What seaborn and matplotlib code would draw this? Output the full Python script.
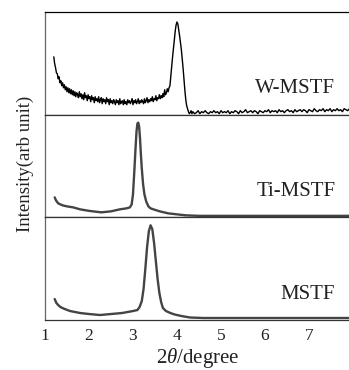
import numpy as np
import pandas as pd
import matplotlib
matplotlib.use("Agg")
import matplotlib.pyplot as plt
import seaborn as sns

# ---------------- data ----------------
# W-MSTF: fine scan 1.20..4.40 step 0.02, coarse part 4.44..7.92 step 0.04
w_x_fine = np.round(np.linspace(1.20, 4.40, 161), 2)
w_y_fine = [
    57, 50, 46, 41, 40, 35, 37, 31, 33, 28, 31,
    26, 29, 24, 27, 22, 26, 21, 25, 20, 24,
    19, 23, 18, 22, 17, 21, 19, 16, 22, 17,
    20, 15, 19, 14, 21, 16, 18, 13, 19, 15,
    17, 12, 18, 14, 16, 11, 17, 13, 15, 12,
    17, 11, 14, 16, 10, 15, 12, 14, 10, 16,
    12, 14, 9, 15, 11, 13, 10, 14, 12, 9,
    14, 11, 13, 9, 15, 10, 12, 13, 9, 14,
    10, 12, 9, 14, 11, 13, 10, 12, 15, 9,
    13, 11, 14, 10, 12, 15, 10, 13, 11, 14,
    12, 10, 15, 11, 13, 16, 11, 14, 12, 15,
    13, 17, 12, 15, 14, 18, 13, 16, 15, 19,
    15, 18, 16, 20, 17, 24, 19, 21, 25, 22,
    26, 28, 38, 48, 57, 65, 74, 83, 89, 92,
    90, 84, 78, 71, 64, 55, 45, 34, 23, 14,
    8, 5, 2, 0, 1, 3, 0, 2, 1, 0,
]
w_x_coarse = np.round(np.linspace(4.44, 7.92, 88), 2)
w_y_coarse = [
    1, 3, 0, 2, 1, 3, 1, 0, 2, 1,
    3, 1, 2, 0, 3, 1, 2, 1, 3, 0,
    2, 1, 3, 2, 0, 3, 1, 2, 4, 1,
    2, 3, 1, 3, 2, 0, 3, 2, 1, 3,
    2, 4, 1, 3, 2, 3, 1, 4, 2, 3,
    1, 3, 4, 2, 3, 1, 4, 2, 3, 4,
    2, 4, 3, 1, 4, 3, 2, 5, 3, 2,
    4, 3, 5, 2, 4, 3, 5, 2, 4, 3,
    5, 3, 4, 2, 5, 4, 3, 5,
]
w_x = list(w_x_fine) + list(w_x_coarse)
w_y = list(w_y_fine) + list(w_y_coarse)

ti_x = [1.22, 1.25, 1.30, 1.40, 1.50, 1.64, 1.80, 2.00, 2.28, 2.50, 2.70, 2.85,
        2.93, 2.97, 3.00, 3.03, 3.06, 3.08, 3.10, 3.12, 3.14, 3.16, 3.18, 3.20,
        3.23, 3.26, 3.30, 3.35, 3.40, 3.50, 3.61, 3.80, 4.00, 4.20, 4.50, 5.00,
        6.00, 7.00, 7.95]
ti_y = [19, 16, 13, 11, 10, 9, 7, 5.5, 4, 5, 7, 8,
        9, 12, 22, 45, 70, 85, 93, 94, 90, 78, 62, 48,
        32, 22, 15, 10, 8, 6.5, 5, 3, 2, 1, 0.5, 0.5,
        0.5, 0.5, 0.5]

ms_x = [1.22, 1.26, 1.30, 1.35, 1.45, 1.57, 1.80, 2.00, 2.25, 2.50, 2.75, 3.00,
        3.10, 3.15, 3.20, 3.24, 3.28, 3.32, 3.36, 3.40, 3.44, 3.48, 3.52, 3.56,
        3.60, 3.64, 3.68, 3.75, 3.85, 3.95, 4.10, 4.30, 4.60, 5.00, 6.00, 7.00,
        7.95]
ms_y = [20, 16, 14, 12, 10, 8, 6, 5, 4, 5, 6, 8,
        9, 12, 18, 30, 50, 72, 88, 94, 90, 76, 58, 40,
        26, 17, 11, 8, 6, 4.5, 3, 1.5, 1, 1, 1, 1,
        1]

labels = ["W-MSTF", "Ti-MSTF", "MSTF"]
xticks = [1, 2, 3, 4, 5, 6, 7]

# ---------------- figure ----------------
sns.set_style("white")
plt.rcParams["font.family"] = ["Liberation Serif", "DejaVu Serif"]
plt.rcParams["mathtext.fontset"] = "custom"
plt.rcParams["mathtext.it"] = "Liberation Serif:italic"
plt.rcParams["mathtext.rm"] = "Liberation Serif"

W, H = 349, 370
fig = plt.figure(figsize=(W / 100, H / 100), dpi=100)
left, right = 45 / W, 1.0
top, bottom = 1 - 12 / H, 1 - 320 / H
ph = (top - bottom) / 3
axes = [fig.add_axes([left, top - ph * (i + 1), right - left, ph]) for i in range(3)]

series = [
    pd.DataFrame({"x": w_x, "y": w_y}),
    pd.DataFrame({"x": ti_x, "y": ti_y}),
    pd.DataFrame({"x": ms_x, "y": ms_y}),
]
styles = [dict(color="black", linewidth=1.0),
          dict(color="#444444", linewidth=1.7),
          dict(color="#444444", linewidth=1.7)]
label_y = [25, 25, 25]

for i, ax in enumerate(axes):
    sns.lineplot(data=series[i], x="x", y="y", ax=ax, sort=False,
                 estimator=None, **styles[i])
    ax.set_xlim(1, 7.91)
    ax.set_ylim(-1, 102)
    ax.set_xlabel("")
    ax.set_ylabel("")
    ax.set_yticks([])
    ax.spines["right"].set_visible(False)
    ax.spines["left"].set_color("#666666")
    ax.spines["left"].set_linewidth(0.9)
    ax.spines["top"].set_color("#333333")
    ax.spines["top"].set_linewidth(0.9)
    ax.spines["bottom"].set_color("#333333")
    ax.spines["bottom"].set_linewidth(0.9)
    ax.text(7.6, label_y[i], labels[i], ha="right", va="center",
            fontsize=15, color="#222222")
    if i < 2:
        ax.set_xticks([])
    else:
        ax.set_xticks(xticks)
        ax.set_xticklabels([str(t) for t in xticks], fontsize=12.5)
        ax.tick_params(axis="x", direction="out", length=3, width=0.8,
                       pad=3, colors="#222222")
axes[0].spines["top"].set_color("black")

fig.text(25 / W, 1 - 164 / H, "Intensity(arb unit)", rotation=90,
         ha="center", va="center", fontsize=13.5, color="#222222")
fig.text(left + (right - left) / 2 + 1 / W, 1 - 358 / H, r"2$\mathit{\theta}$/degree",
         ha="center", va="center", fontsize=15, color="#222222")

fig.savefig("out.png", dpi=100)
